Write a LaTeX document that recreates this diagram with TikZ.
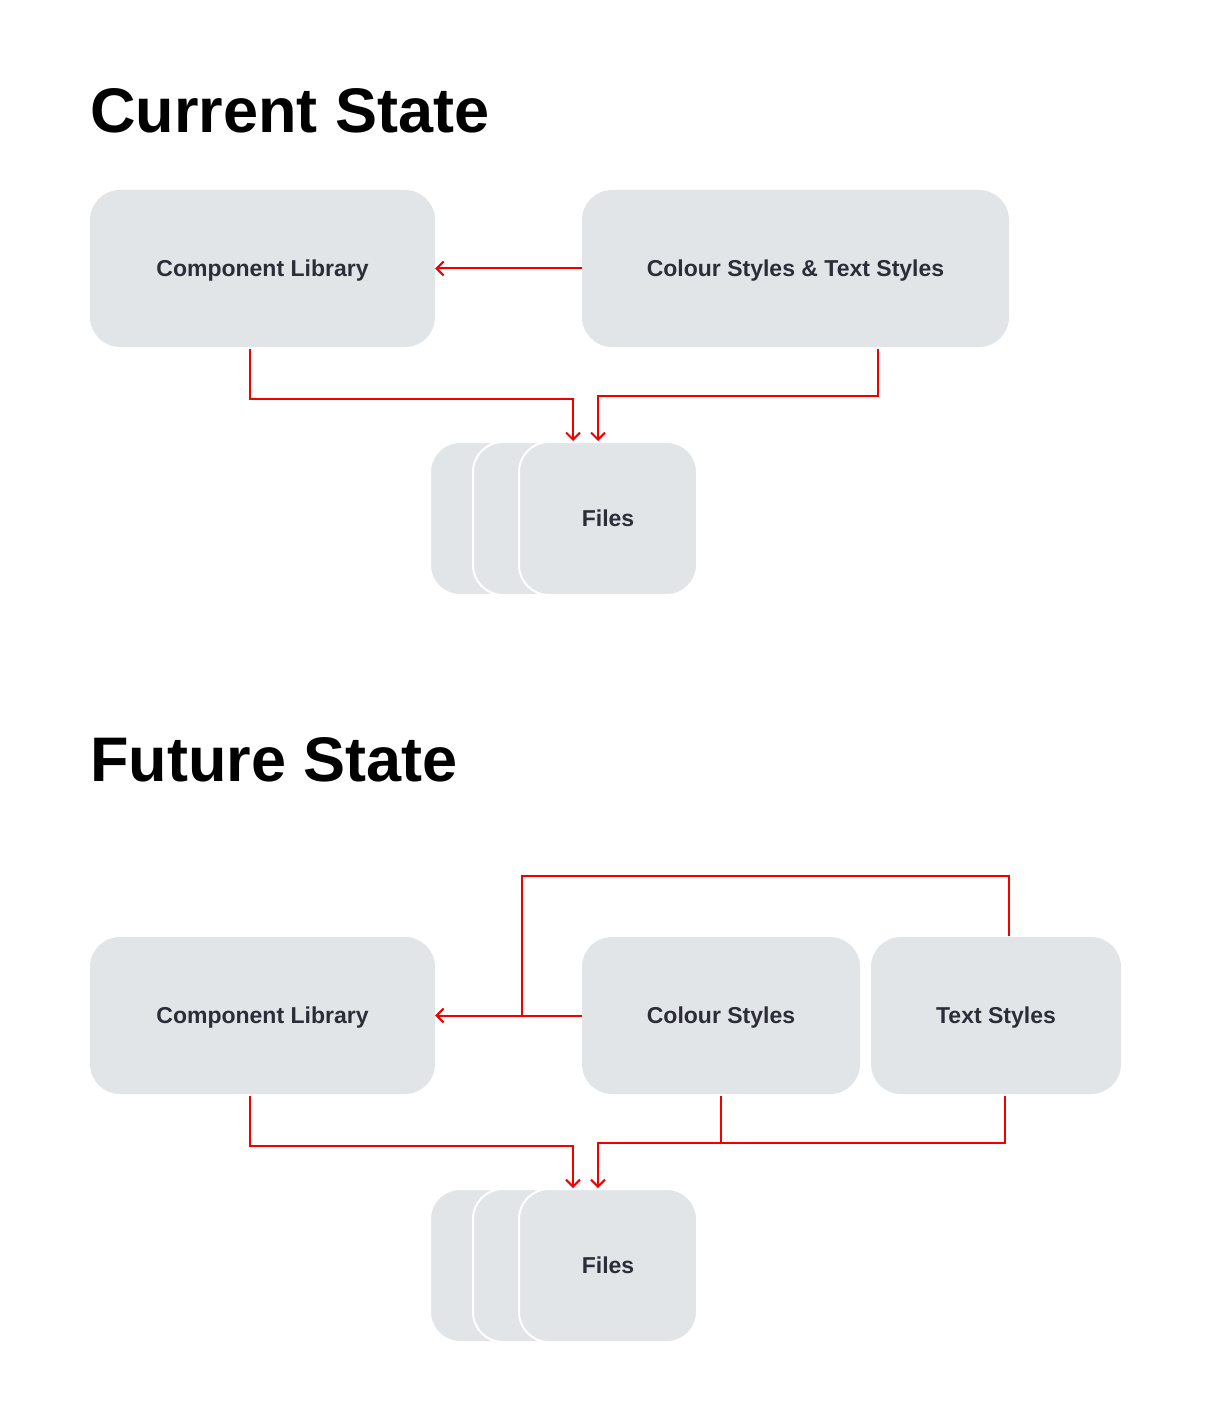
\documentclass[tikz,border=0pt]{standalone}
\usepackage{fontspec}
\setmainfont{Liberation Sans}
\usepackage{tikz}
\usetikzlibrary{arrows.meta,positioning,calc}
\definecolor{boxgray}{HTML}{E2E5E8}
\definecolor{ink}{HTML}{2B2D38}
\definecolor{linkred}{HTML}{F00000}

\begin{document}
\begin{tikzpicture}[x=1pt,y=-1pt,
  title/.style={anchor=base west,inner sep=0pt,font=\fontsize{63}{70}\selectfont\bfseries},
  box/.style={fill=boxgray,rounded corners=30pt,text=ink,inner sep=0pt,text depth=0pt,minimum height=157pt,font=\fontsize{23}{28}\selectfont\bfseries},
  filebox/.style={box,draw=white,line width=2pt,minimum width=178pt,minimum height=153pt},
  link/.style={linkred,line width=2pt,-{Straight Barb[length=7pt,width=14pt]}}]
\fill[white] (0,0) rectangle (1210,1412);
\useasboundingbox (0,0) rectangle (1210,1412);
% current state
\node[title] (curtitle) at (90,133) {Current State};
\node[box,minimum width=345pt] (lib1) at (262.5,268.5) {Component Library};
\node[box,minimum width=427pt] (sty1) at (795.5,268.5) {Colour Styles \& Text Styles};
\node[filebox] (files1c) at (519,518.5) {};
\node[filebox] (files1b) at (562,518.5) {};
\node[filebox] (files1) at (608,518.5) {Files};
\draw[link] (sty1.west) -- (lib1.east);
\draw[link] ([xshift=-12.5pt,yshift=-2pt]lib1.south) -- ++(0,50) -| ([xshift=-35pt]files1.north);
\draw[link] ([xshift=82.5pt,yshift=-2pt]sty1.south) -- ++(0,47) -| ([xshift=-10pt]files1.north);
% future state
\node[title] (futtitle) at (90,781) {Future State};
\node[box,minimum width=345pt] (lib2) at (262.5,1015.5) {Component Library};
\node[box,minimum width=278pt] (col2) at (721,1015.5) {Colour Styles};
\node[box,minimum width=250pt] (txt2) at (996,1015.5) {Text Styles};
\coordinate (join2) at (522,1015.5);
\node[filebox] (files2c) at (519,1265.5) {};
\node[filebox] (files2b) at (562,1265.5) {};
\node[filebox] (files2) at (608,1265.5) {Files};
\draw[link] (col2.west) -- (lib2.east);
\draw[linkred,line width=2pt] ([xshift=13pt,yshift=1pt]txt2.north) -- ++(0,-60) -| (join2);
\draw[link] ([xshift=-12.5pt,yshift=-2pt]lib2.south) -- ++(0,50) -| ([xshift=-35pt]files2.north);
\draw[linkred,line width=2pt] ([yshift=-2pt]col2.south) -- ++(0,47);
\draw[link] ([xshift=9pt,yshift=-2pt]txt2.south) -- ++(0,47) -| ([xshift=-10pt]files2.north);
\end{tikzpicture}
\end{document}
